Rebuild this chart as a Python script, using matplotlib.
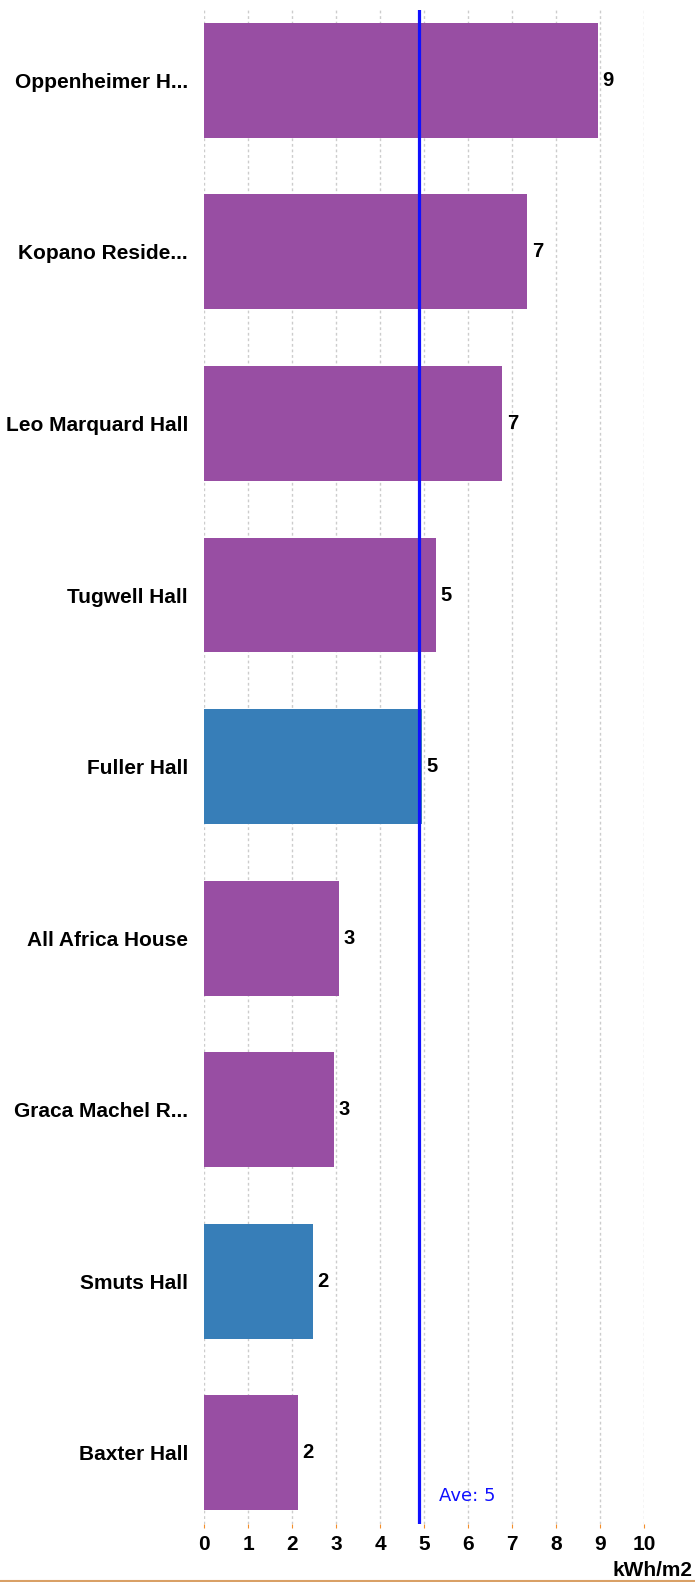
import numpy as np
import matplotlib.pyplot as plt
from matplotlib.lines import Line2D

# Energy intensity per residence (kWh/m2), top to bottom as shown
halls = ['Oppenheimer H...', 'Kopano Reside...', 'Leo Marquard Hall', 'Tugwell Hall',
         'Fuller Hall', 'All Africa House', 'Graca Machel R...', 'Smuts Hall', 'Baxter Hall']
values = [8.95, 7.35, 6.78, 5.27, 4.95, 3.07, 2.95, 2.47, 2.13]
highlight = ['Fuller Hall', 'Smuts Hall']
x_ticks = list(range(0, 11))

purple = '#984ea3'
blue = '#377eb8'
avg = np.mean(values)

fig = plt.figure(figsize=(6.95, 15.82), dpi=100)
ax = fig.add_axes([204 / 695, 58 / 1582, 440 / 695, 1514 / 1582])

ypos = np.arange(len(halls))
colors = [blue if h in highlight else purple for h in halls]
ax.barh(ypos, values, height=0.67, color=colors, zorder=2)

for y, v in zip(ypos, values):
    ax.text(v + 0.1, y, '%d' % round(v), va='center', ha='left',
            fontsize=14.5, fontweight='bold', family='Liberation Sans')

ax.axvline(avg, color='#1010ff', lw=2.3, zorder=3)
ax.text(avg + 0.47, len(halls) - 1 + 0.25, 'Ave: %d' % round(avg), color='#1010ff',
        fontsize=13, family='DejaVu Sans', va='center', ha='left')

ax.set_xlim(0, 10)
ax.set_ylim(len(halls) - 1 + 0.415, -0.41)
ax.set_yticks(ypos)
ax.set_yticklabels(halls, fontsize=15, fontweight='bold', family='Liberation Sans')
ax.set_xticks(x_ticks)
ax.set_xticklabels([str(t) for t in x_ticks], fontsize=15, fontweight='bold',
                   family='Liberation Sans')
ax.tick_params(axis='y', length=0, pad=11.5)
ax.tick_params(axis='x', length=3, color='#f28e2b', pad=5)

ax.grid(axis='x', color='#cccccc', linestyle=(0, (2, 2)), lw=1, zorder=0)
for s in ax.spines.values():
    s.set_visible(False)

fig.text(692 / 695, 1 - 1571 / 1582, 'kWh/m2', ha='right', va='center',
         fontsize=15, fontweight='bold', family='Liberation Sans')
fig.add_artist(Line2D([0, 1], [0.6 / 1582, 0.6 / 1582], color='#d9a066', lw=1.5))

fig.savefig('out.png', dpi=100)
